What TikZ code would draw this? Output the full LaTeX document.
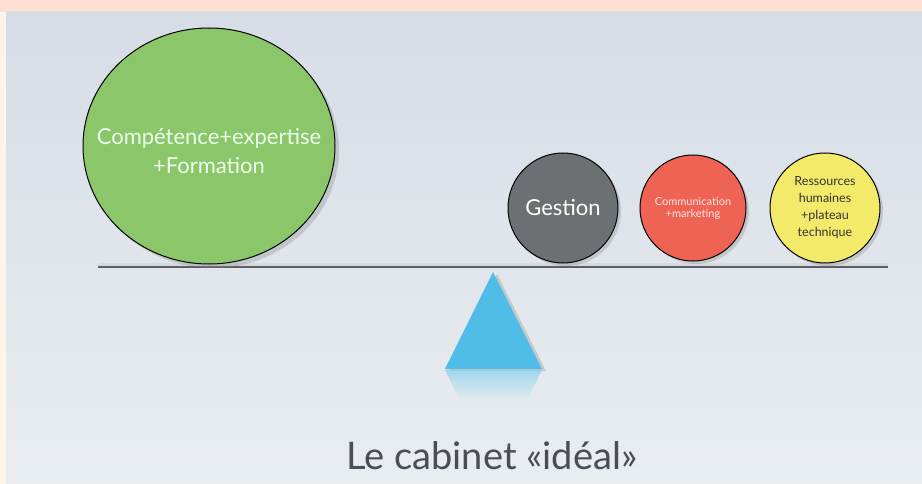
\documentclass[tikz,border=0pt]{standalone}
\usepackage{fontspec}
\setmainfont{Lato}
\usetikzlibrary{shapes.geometric,shadows,fadings}

\definecolor{peach}{HTML}{FDE2D3}
\definecolor{cream}{HTML}{FFF4EA}
\definecolor{slidetop}{HTML}{D6DDE6}
\definecolor{slidebot}{HTML}{E9EDF0}
\definecolor{beamgray}{HTML}{5B6068}
\definecolor{ballgreen}{HTML}{8BC66A}
\definecolor{ballgray}{HTML}{6D7073}
\definecolor{ballred}{HTML}{EF6355}
\definecolor{ballyellow}{HTML}{F4EA6A}
\definecolor{pivotblue}{HTML}{4FBDE8}
\definecolor{titlegray}{HTML}{4A4D55}

\begin{document}
\begin{tikzpicture}[x=1pt, y=-1pt,
    ball/.style = {circle, draw=black, line width=1pt, minimum size=110pt,
        inner sep=0pt, align=center,
        drop shadow={opacity=0.3, shadow xshift=3pt, shadow yshift=-3pt}}]
    % background
    \useasboundingbox (0,0) rectangle (922,484);
    \fill [peach] (0,0) rectangle (922,12);
    \fill [cream] (0,12) rectangle (6,484);
    \shade [top color=slidetop, bottom color=slidebot] (6,12) rectangle (922,484);

    % beam
    \coordinate (beamL) at (98,267);
    \coordinate (beamR) at (888,267);
    \draw [black!15, line width=3pt] ([yshift=3pt]beamL) -- ([yshift=3pt]beamR);
    \draw [beamgray, line width=2pt] (beamL) -- (beamR);

    % pivot
    \coordinate (top) at (493,272);
    \fill [pivotblue, drop shadow={opacity=0.3, shadow xshift=4pt, shadow yshift=-2pt}]
        (top) -- (542,369) -- (445,369) -- cycle;
    \fill [pivotblue!70, path fading=south, opacity=0.7]
        (445,370) -- (542,370) -- (527,400) -- (460,400) -- cycle;

    % balls
    \node [ellipse, draw=black, line width=1pt, fill=ballgreen,
        minimum width=252pt, minimum height=236pt, inner sep=0pt,
        drop shadow={opacity=0.3, shadow xshift=4pt, shadow yshift=-4pt}]
        (competence) at (209,146) {};
    \node [text=green!8, font=\fontsize{22}{29}\selectfont, align=center]
        (competencetxt) at ([yshift=-5pt]competence.center) {Compétence+expertise\\+Formation};
    \node [ball, fill=ballgray, text=white, font=\fontsize{22}{24}\selectfont]
        (gestion) at (563,208) {Gestion};
    \node [ball, fill=ballred, minimum size=106pt, text=red!10,
        font=\fontsize{11}{12}\selectfont]
        (comm) at (693,208) {Communication\\+marketing};
    \node [ball, fill=ballyellow, text=black!80, font=\fontsize{12.5}{17}\selectfont]
        (rh) at (825,208) {Ressources\\humaines\\+plateau\\technique};

    % title
    \node [text=titlegray, font=\fontsize{38}{40}\selectfont]
        (title) at (492,456) {Le cabinet «idéal»};
\end{tikzpicture}
\end{document}
